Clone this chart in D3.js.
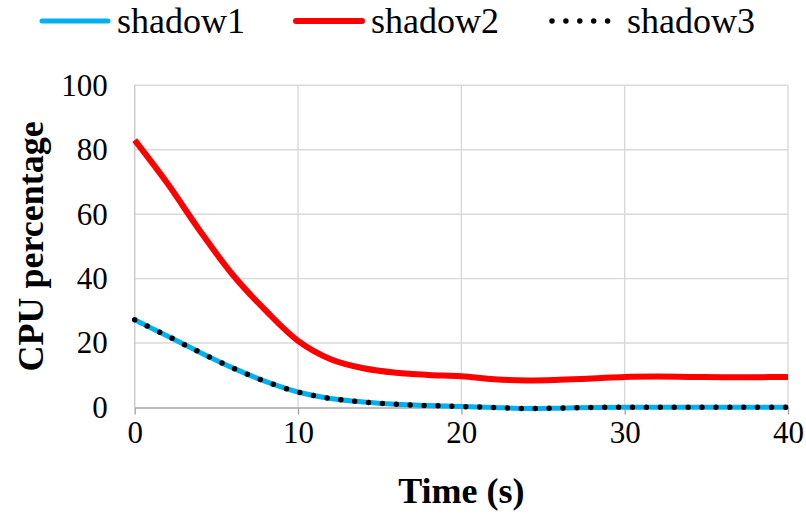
<!DOCTYPE html>
<html>
<head>
<meta charset="utf-8">
<script src="https://cdn.jsdelivr.net/npm/d3@7"></script>
<style>
  html, body { margin: 0; padding: 0; background: #fff; }
  svg { display: block; }
  svg text { font-family: "Liberation Serif", "Times New Roman", "DejaVu Serif", serif; fill: #000; }
</style>
</head>
<body>
<svg id="chart" width="806" height="516"></svg>
<script>
// Time axis (seconds)
const times = [0, 2, 4, 6, 8, 10, 12, 14, 16, 18, 20, 22, 24, 26, 28, 30, 32, 34, 36, 38, 40];
// CPU usage per shadow (%)
const shadow1 = [27.2, 22.2, 17.1, 12.3, 8.1, 4.8, 2.8, 1.7, 1.0, 0.6, 0.3, 0.0, -0.3, -0.2, 0.0, 0.1, 0.1, 0.1, 0.1, 0.1, 0.1];
const shadow2 = [83.0, 69.6, 54.8, 41.2, 30.2, 20.7, 15.0, 12.2, 10.8, 10.1, 9.7, 8.8, 8.4, 8.6, 9.0, 9.5, 9.6, 9.5, 9.4, 9.4, 9.5];
const shadow3 = [27.2, 22.2, 17.1, 12.3, 8.1, 4.8, 2.8, 1.7, 1.0, 0.6, 0.3, 0.0, -0.3, -0.2, 0.0, 0.1, 0.1, 0.1, 0.1, 0.1, 0.1];
const xTicks = [0, 10, 20, 30, 40];
const yTicks = [0, 20, 40, 60, 80, 100];
const seriesNames = ["shadow1", "shadow2", "shadow3"];

const svg = d3.select("#chart");
const plot = { left: 134.7, right: 788, top: 85.3, bottom: 407.5 };

const x = d3.scaleLinear().domain([0, 40]).range([plot.left, plot.right]);
const y = d3.scaleLinear().domain([0, 100]).range([plot.bottom, plot.top]);

// Gridlines
const grid = svg.append("g").attr("stroke", "#d9d9d9").attr("stroke-width", 1.4);
yTicks.filter(d => d > 0).forEach(v => {
  grid.append("line").attr("x1", plot.left).attr("x2", plot.right).attr("y1", y(v)).attr("y2", y(v));
});
xTicks.filter(d => d > 0).forEach(v => {
  grid.append("line").attr("x1", x(v)).attr("x2", x(v)).attr("y1", plot.top).attr("y2", plot.bottom);
});

// Y axis line
svg.append("line").attr("x1", plot.left).attr("x2", plot.left).attr("y1", plot.top).attr("y2", plot.bottom)
  .attr("stroke", "#c8c8c8").attr("stroke-width", 1.4);

// X axis with outward ticks
const xAxis = d3.axisBottom(x).tickValues(xTicks).tickSize(7).tickSizeOuter(0).tickFormat(d3.format("d"));
const gx = svg.append("g").attr("transform", `translate(0,${plot.bottom})`).call(xAxis);
gx.attr("font-family", null).attr("font-size", null);
gx.select(".domain").attr("stroke", "#a6a6a6").attr("stroke-width", 1.4);
gx.selectAll(".tick line").attr("stroke", "#a6a6a6").attr("stroke-width", 1.4);
gx.selectAll(".tick text").style("font-size", "31px").attr("y", 13).attr("dy", "0.71em");

// Y axis labels
const yAxis = d3.axisLeft(y).tickValues(yTicks).tickSize(0).tickFormat(d3.format("d"));
const gy = svg.append("g").attr("transform", `translate(${plot.left},0)`).call(yAxis);
gy.attr("font-family", null).attr("font-size", null);
gy.select(".domain").remove();
gy.selectAll(".tick text").style("font-size", "31px").attr("x", -27);

// Series lines
const pts = vals => times.map((t, i) => [t, vals[i]]);
const line = d3.line().x(d => x(d[0])).y(d => y(d[1])).curve(d3.curveCatmullRom.alpha(0.5));

svg.append("path").datum(pts(shadow1)).attr("d", line)
  .attr("fill", "none").attr("stroke", "#00b0f0").attr("stroke-width", 5);
svg.append("path").datum(pts(shadow2)).attr("d", line)
  .attr("fill", "none").attr("stroke", "#ff0000").attr("stroke-width", 6);
svg.append("path").datum(pts(shadow3)).attr("d", line)
  .attr("fill", "none").attr("stroke", "#000").attr("stroke-width", 5.5)
  .attr("stroke-linecap", "round").attr("stroke-dasharray", "0 13.9");

// Axis titles
svg.append("text").attr("x", (plot.left + plot.right) / 2).attr("y", 503)
  .attr("text-anchor", "middle").style("font-size", "36px").style("font-weight", "bold")
  .text("Time (s)");
svg.append("text").attr("transform", `translate(43,${(plot.top + plot.bottom) / 2}) rotate(-90)`)
  .attr("text-anchor", "middle").style("font-size", "36px").style("font-weight", "bold")
  .text("CPU percentage");

// Legend
const legendItems = [
  { name: seriesNames[0], x0: 39, color: "#00b0f0", width: 5, dash: null },
  { name: seriesNames[1], x0: 293, color: "#ff0000", width: 6, dash: null },
  { name: seriesNames[2], x0: 549, color: "#000", width: 5.5, dash: "0 13.9" }
];
legendItems.forEach(it => {
  const ln = svg.append("line").attr("x1", it.x0 + 3).attr("x2", it.x0 + 69)
    .attr("y1", 21).attr("y2", 21).attr("stroke", it.color).attr("stroke-width", it.width)
    .attr("stroke-linecap", "round");
  if (it.dash) ln.attr("stroke-dasharray", it.dash);
  svg.append("text").attr("x", it.x0 + 78).attr("y", 33).style("font-size", "36px").text(it.name);
});
</script>
</body>
</html>
